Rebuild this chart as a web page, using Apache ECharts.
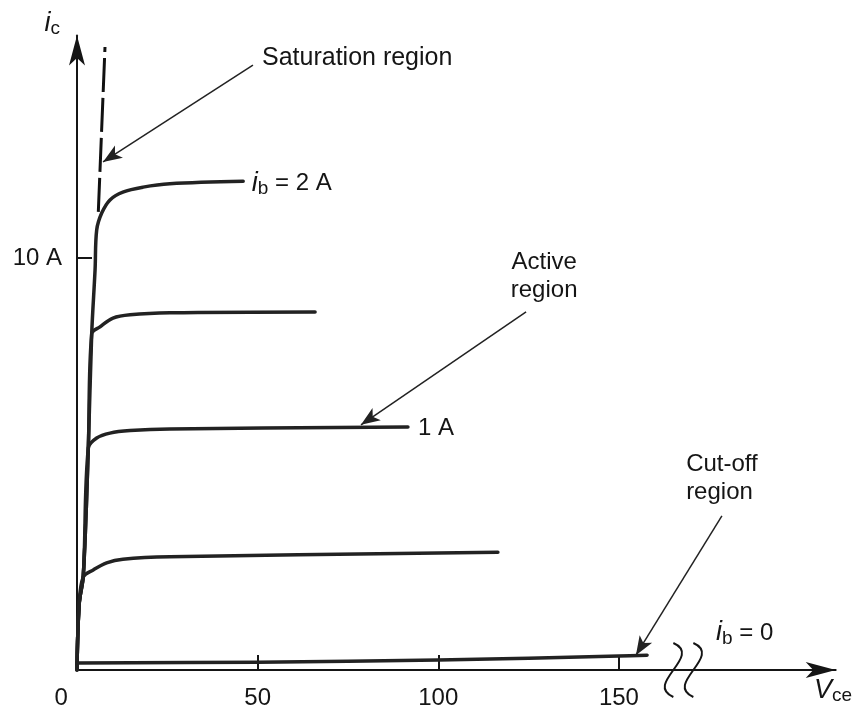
<!DOCTYPE html>
<html><head><meta charset="utf-8">
<script src="https://cdn.jsdelivr.net/npm/echarts@6/dist/echarts.min.js"></script>
<style>html,body{margin:0;padding:0;background:#fff}#c{width:856px;height:713px}</style>
</head><body><div id="c"></div>
<script>
// ---- data (Vce in volts, Ic in amperes) ----
const xTickValues = [50, 100, 150];
const yTickValues = [10];
const curve_ib2  = [[0,0],[0.6,1.6],[1.75,2.3],[3.13,5.39],[4.07,8.16],[5.0,9.71],[5.45,10.68],[6.84,11.09],[9.13,11.41],[12.7,11.6],[18.3,11.72],[25.7,11.8],[46,11.86]];
const curve_ib15 = [[0,0],[0.6,1.6],[1.75,2.3],[3.13,5.39],[4.07,8.16],[6.37,8.33],[9.96,8.54],[14.7,8.62],[25.7,8.67],[65.9,8.69]];
const curve_ib1  = [[0,0],[0.6,1.6],[1.75,2.3],[3.13,5.39],[5.45,5.63],[9.13,5.75],[14.7,5.81],[25.7,5.85],[91.6,5.9]];
const curve_ib05 = [[0,0],[0.6,1.6],[1.75,2.26],[4.5,2.43],[8.2,2.6],[12.7,2.69],[25.7,2.75],[116.5,2.86]];
const curve_ib0  = [[0,0.17],[50,0.19],[100,0.24],[150,0.34],[157.8,0.36]];
const saturationLine = [[5.9,11.12],[7.75,15.12]];
const arrowSaturation = [[48.7,14.68],[7.2,12.33]];
const arrowActive = [[124.3,8.69],[78.6,5.95]];
const arrowCutoff = [[178.5,3.74],[154.7,0.36]];

const FONT = 'Liberation Sans';
const INK = '#151515';
const chart = echarts.init(document.getElementById('c'), null, {renderer: 'canvas'});

function curve(name, data) {
  return {
    name, type: 'line', data, smooth: 0.35, symbol: 'none', silent: true,
    lineStyle: {color: '#222', width: 3.5, cap: 'round', join: 'round'}, z: 3
  };
}
function arrow(pair) {
  return [{coord: pair[0]}, {coord: pair[1]}];
}

chart.setOption({
  animation: false,
  backgroundColor: '#fff',
  grid: {left: 77, right: 20.3, top: 35.5, bottom: 43, containLabel: false},
  xAxis: {
    type: 'value', min: 0, max: 210,
    axisLine: {show: true, symbol: ['none', 'arrow'], symbolSize: [12, 30], lineStyle: {color: INK, width: 2}},
    axisTick: {show: true, inside: true, length: 15, customValues: xTickValues, lineStyle: {color: INK, width: 2}},
    axisLabel: {show: true, customValues: xTickValues, margin: 16, color: INK, fontSize: 24, fontFamily: FONT},
    splitLine: {show: false}
  },
  yAxis: {
    type: 'value', min: 0, max: 15.4,
    axisLine: {show: true, symbol: ['none', 'arrow'], symbolSize: [12, 30], lineStyle: {color: INK, width: 2}},
    axisTick: {show: true, inside: true, length: 15, customValues: yTickValues, lineStyle: {color: INK, width: 2}},
    axisLabel: {show: true, customValues: yTickValues, margin: 15, color: INK, fontSize: 24, fontFamily: FONT,
      formatter: v => v + ' A'},
    splitLine: {show: false}
  },
  series: [
    curve('ib = 2 A', curve_ib2),
    curve('ib = 1.5 A', curve_ib15),
    curve('ib = 1 A', curve_ib1),
    curve('ib = 0.5 A', curve_ib05),
    curve('ib = 0', curve_ib0),
    {
      name: 'saturation', type: 'line', data: saturationLine, symbol: 'none', silent: true,
      lineStyle: {color: '#111', width: 3, type: [34, 6]}, z: 4
    },
    {
      name: 'annotations', type: 'line', data: [], silent: true,
      markLine: {
        silent: true, symbol: ['none', 'arrow'], symbolSize: [11, 19], animation: false,
        label: {show: false},
        lineStyle: {color: '#222', width: 1.5, type: 'solid'},
        data: [arrow(arrowSaturation), arrow(arrowActive), arrow(arrowCutoff)]
      }
    }
  ]
});

// ---- text annotations, anchored in data coordinates ----
function px(x, y) { return chart.convertToPixel({gridIndex: 0}, [x, y]); }
const subRich = () => ({
  m: {fontSize: 27, fontStyle: 'italic', fontFamily: FONT, lineHeight: 30, fill: INK},
  s: {fontSize: 19, fontFamily: FONT, lineHeight: 16, verticalAlign: 'bottom', fill: INK},
  n: {fontSize: 24, fontFamily: FONT, lineHeight: 30, fill: INK}
});
function txt(x, y, text, align, size) {
  const p = px(x, y);
  return {
    type: 'text', silent: true, z: 10,
    style: {x: p[0], y: p[1], text, fill: INK, fontSize: size || 24, fontFamily: FONT,
      align: align || 'left', verticalAlign: 'middle', lineHeight: 28}
  };
}
function richTxt(x, y, text) {
  const p = px(x, y);
  return {
    type: 'text', silent: true, z: 10,
    style: {x: p[0], y: p[1], text, align: 'left', verticalAlign: 'middle', rich: subRich(), fill: INK}
  };
}
function breakMark(x, y, dx) {
  const p = px(x, y);
  const bx = p[0] + dx, by = p[1];
  return {
    type: 'bezierCurve', silent: true, z: 10,
    shape: {x1: bx, y1: by - 27, x2: bx, y2: by + 27, cpx1: bx + 30, cpy1: by - 14, cpx2: bx - 30, cpy2: by + 14},
    style: {stroke: INK, lineWidth: 2, fill: null}
  };
}

chart.setOption({
  graphic: [
    txt(51.2, 14.85, 'Saturation region', 'left', 25),
    richTxt(48.4, 11.82, '{m|i}{s|b}{n| = 2 A}'),
    txt(129.3, 9.56, 'Active\nregion', 'center'),
    txt(94.4, 5.87, '1 A'),
    txt(168.6, 4.64, 'Cut-off\nregion'),
    richTxt(176.9, 0.9, '{m|i}{s|b}{n| = 0}'),
    richTxt(-9.0, 15.7, '{m|i}{s|c}'),
    richTxt(204.0, -0.5, '{m|V}{s|ce}'),
    txt(-4.4, -0.7, '0', 'center'),
    breakMark(167, 0, -7),
    breakMark(167, 0, 13)
  ]
});
</script>
</body></html>
